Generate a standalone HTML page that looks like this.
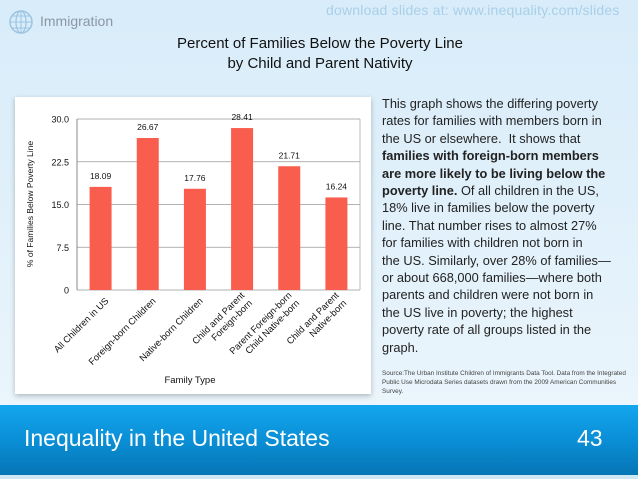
<!DOCTYPE html>
<html><head><meta charset="utf-8"><style>
body{margin:0;width:638px;height:479px;overflow:hidden;font-family:"Liberation Sans",sans-serif;}
#slide{position:relative;width:638px;height:479px;background:linear-gradient(180deg,#d8ecf9 0%,#e4f2fb 60%,#eef7fc 100%);}
.abs{position:absolute;}
#desc div{white-space:nowrap;}
</style></head><body>
<div id="slide">
<svg class="abs" style="left:8px;top:9px" width="26" height="26"><circle cx="13" cy="13" r="11" fill="none" stroke="#9cc3e3" stroke-width="1.5"/><ellipse cx="13" cy="13" rx="5" ry="11" fill="none" stroke="#9cc3e3" stroke-width="1.2"/><line x1="2" y1="13" x2="24" y2="13" stroke="#9cc3e3"/><line x1="4" y1="7" x2="22" y2="7" stroke="#9cc3e3"/><line x1="4" y1="19" x2="22" y2="19" stroke="#9cc3e3"/><line x1="13" y1="2" x2="13" y2="24" stroke="#9cc3e3"/></svg>
<div class="abs" style="left:40px;top:13px;font-size:14px;color:#8a97a3">Immigration</div>
<div class="abs" style="left:326px;top:2px;font-size:14px;color:#a9cfe9;letter-spacing:0.2px">download slides at: www.inequality.com/slides</div>
<div class="abs" style="left:100px;width:440px;top:34px;text-align:center;font-size:15px;line-height:20px;color:#111">Percent of Families Below the Poverty Line<br>by Child and Parent Nativity</div>
<div class="abs" style="left:15px;top:97px;width:356px;height:297px;background:#fff;box-shadow:0 2px 5px rgba(0,0,0,0.25)"></div>
<svg id="chart" class="abs" style="left:0;top:0" width="638" height="400"></svg>
<div id="desc" class="abs" style="left:382px;top:95px;width:256px;font-size:12.8px;line-height:17.4px;color:#222">
<div>This graph shows the differing poverty</div>
<div>rates for families with members born in</div>
<div>the US or elsewhere.&nbsp; It shows that</div>
<div><b>families with foreign-born members</b></div>
<div><b>are more likely to be living below the</b></div>
<div><b>poverty line.</b> Of all children in the US,</div>
<div>18% live in families below the poverty</div>
<div>line. That number rises to almost 27%</div>
<div>for families with children not born in</div>
<div>the US. Similarly, over 28% of families—</div>
<div>or about 668,000 families—where both</div>
<div>parents and children were not born in</div>
<div>the US live in poverty; the highest</div>
<div>poverty rate of all groups listed in the</div>
<div>graph.</div>
</div>
<div class="abs" style="left:382px;top:369px;width:250px;font-size:6.4px;line-height:9px;color:#444">Source:The Urban Institute Children of Immigrants Data Tool. Data from the Integrated Public Use Microdata Series datasets drawn from the 2009 American Communities Survey.</div>
<div class="abs" style="left:0;top:405px;width:638px;height:70px;background:linear-gradient(180deg,#13a6ee 0%,#0a8fd6 50%,#0675b5 100%)"></div>
<div class="abs" style="left:0;top:475px;width:638px;height:4px;background:#cfe6f3"></div>
<div class="abs" style="left:24px;top:425px;font-size:23px;color:#fff">Inequality in the United States</div>
<div class="abs" style="left:577px;top:425px;font-size:23px;color:#fff">43</div>
</div>
<script>
const categories=[["All Children in US"],["Foreign-born Children"],["Native-born Children"],["Child and Parent","Foreign-born"],["Parent Foreign-born","Child Native-born"],["Child and Parent","Native-born"]];
const values=[18.09,26.67,17.76,28.41,21.71,16.24];
const valueLabels=["18.09","26.67","17.76","28.41","21.71","16.24"];
const ticks=[0,7.5,15,22.5,30];
const tickLabels=["0","7.5","15.0","22.5","30.0"];
const svg=document.getElementById('chart');const NS='http://www.w3.org/2000/svg';
const x0=77,x1=360,y0=290,y1=119,ymax=30;
const y=v=>y0-(v/ymax)*(y0-y1);
const step=(x1-x0)/categories.length;
const cx=i=>x0+step*(i+0.5);
function mk(t,a,txt){const e=document.createElementNS(NS,t);for(const k in a)e.setAttribute(k,a[k]);if(txt!==undefined)e.textContent=txt;svg.appendChild(e);return e;}
ticks.forEach((t,i)=>{
 const g=mk('line',{x1:x0,x2:x1,y1:y(t),y2:y(t),stroke:'#999','stroke-width':0.8});
 
 
 const l=mk('text',{x:x0-8,y:y(t)+3.5,'text-anchor':'end','font-size':9,fill:'#111'},tickLabels[i]);
 
 
});
const ax=mk('line',{x1:x0,x2:x0,y1:y1,y2:y0,stroke:'#888'});


const rx=mk('line',{x1:x1,x2:x1,y1:y1,y2:y0,stroke:'#aaa','stroke-width':0.8});


values.forEach((v,i)=>{
 const b=mk('rect',{x:cx(i)-11,y:y(v),width:22,height:y0-y(v),fill:'#f95d4e'});
 
 
 const t=mk('text',{x:cx(i),y:y(v)-8,'text-anchor':'middle','font-size':8.5,fill:'#111'},valueLabels[i]);
 
 
 const g=mk('text',{transform:`translate(${cx(i)+5},${y0+8}) rotate(-45)`,'text-anchor':'end','font-size':9.3,fill:'#111'});
 
 
 categories[i].forEach((ln,j)=>{const s=document.createElementNS(NS,'tspan');s.setAttribute('x',0);s.setAttribute('dy',j===0?(categories[i].length>1?-3:5):11);s.textContent=ln;g.appendChild(s);});
});
const xt=mk('text',{x:190,y:383,'text-anchor':'middle','font-size':9.5,fill:'#111'},'Family Type');


const yt=mk('text',{transform:'translate(33,204) rotate(-90)','text-anchor':'middle','font-size':8.5,fill:'#111'},'% of Families Below Poverty Line');


</script>
</body></html>
